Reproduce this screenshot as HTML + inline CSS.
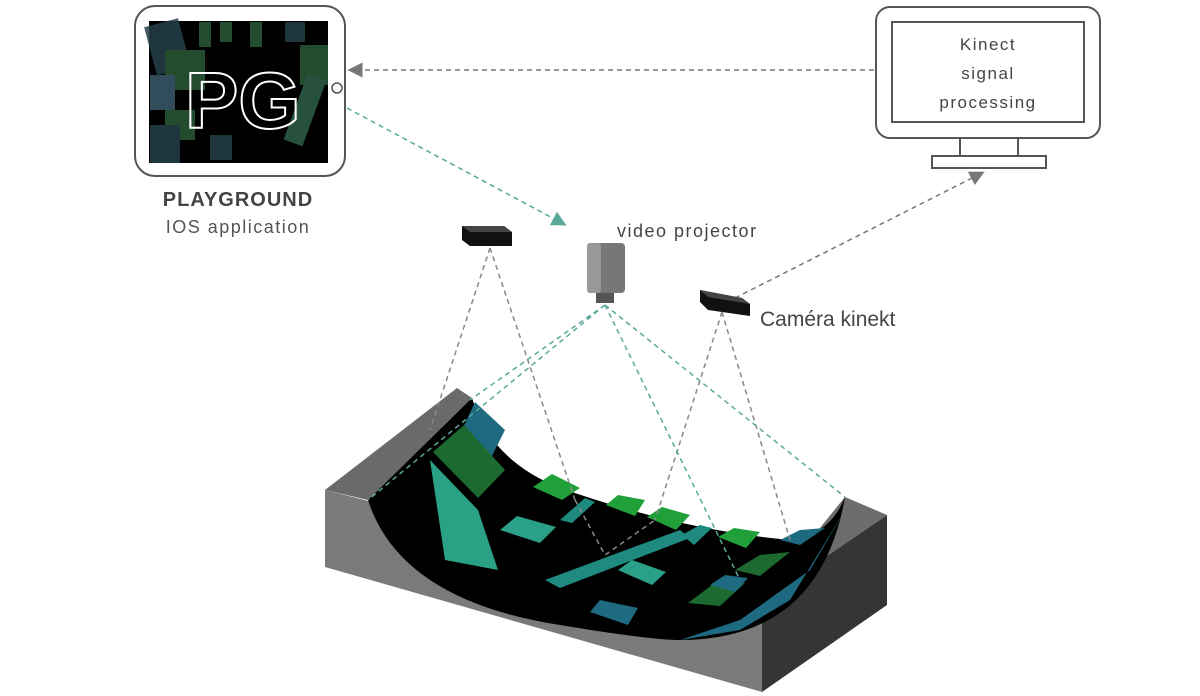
<!DOCTYPE html>
<html><head><meta charset="utf-8"><style>
html,body{margin:0;padding:0;background:#fff}
svg{display:block}
text{font-family:"Liberation Sans",sans-serif}
</style></head><body>
<svg width="1200" height="696" viewBox="0 0 1200 696" xmlns="http://www.w3.org/2000/svg">
<defs>
<marker id="ag" markerWidth="10" markerHeight="10" refX="5" refY="5" orient="auto"><path d="M0,0 L10,5 L0,10 z" fill="#777"/></marker>
<marker id="at" markerWidth="10" markerHeight="10" refX="5" refY="5" orient="auto"><path d="M0,0 L10,5 L0,10 z" fill="#5aa89a"/></marker>
</defs>
<!-- tablet -->
<rect x="135" y="6" width="210" height="170" rx="20" fill="#fff" stroke="#555" stroke-width="2"/>
<circle cx="337" cy="88" r="5" fill="#fff" stroke="#555" stroke-width="1.5"/>
<rect x="149" y="21" width="179" height="142" fill="#000"/>
<g opacity="0.85">
<rect x="150" y="22" width="35" height="50" fill="#26404a" transform="rotate(-15 167 47)"/>
<rect x="199" y="22" width="12" height="25" fill="#2a5a38"/>
<rect x="220" y="22" width="12" height="20" fill="#2a5a38"/>
<rect x="250" y="22" width="12" height="25" fill="#2a5a38"/>
<rect x="285" y="22" width="20" height="20" fill="#26404a"/>
<rect x="300" y="45" width="28" height="40" fill="#2a5a38"/>
<rect x="165" y="50" width="40" height="40" fill="#2a5a38"/>
<rect x="150" y="75" width="25" height="35" fill="#3a5a6a"/>
<rect x="295" y="75" width="20" height="70" fill="#2f6048" transform="rotate(20 305 110)"/>
<rect x="165" y="110" width="30" height="30" fill="#2a5a38"/>
<rect x="150" y="125" width="30" height="38" fill="#26404a"/>
<rect x="210" y="135" width="22" height="25" fill="#26404a"/>
</g>
<text x="185" y="128" font-size="80" fill="none" stroke="#fff" stroke-width="2" font-weight="bold">PG</text>
<text x="238" y="206" font-size="20" fill="#444" text-anchor="middle" font-weight="bold" letter-spacing="1">PLAYGROUND</text>
<text x="238" y="233" font-size="18" fill="#555" text-anchor="middle" letter-spacing="1.5">IOS application</text>
<!-- monitor -->
<rect x="876" y="7" width="224" height="131" rx="14" fill="#fff" stroke="#555" stroke-width="2"/>
<rect x="892" y="22" width="192" height="100" fill="#fff" stroke="#555" stroke-width="2"/>
<rect x="960" y="138" width="58" height="18" fill="#fff" stroke="#555" stroke-width="2"/>
<rect x="932" y="156" width="114" height="12" fill="#fff" stroke="#555" stroke-width="2"/>
<text x="988" y="50" font-size="17" fill="#444" text-anchor="middle" letter-spacing="1.5">Kinect</text>
<text x="988" y="79" font-size="17" fill="#444" text-anchor="middle" letter-spacing="1.5">signal</text>
<text x="988" y="108" font-size="17" fill="#444" text-anchor="middle" letter-spacing="1.5">processing</text>
<!-- arrows top -->
<line x1="874" y1="70" x2="355" y2="70" stroke="#777" stroke-width="1.5" stroke-dasharray="5,4" marker-end="url(#ag)"/>
<line x1="347" y1="108" x2="560" y2="222" stroke="#5aa89a" stroke-width="1.5" stroke-dasharray="5,4" marker-end="url(#at)"/>
<line x1="735" y1="298" x2="978" y2="175" stroke="#777" stroke-width="1.5" stroke-dasharray="5,4" marker-end="url(#ag)"/>
<!-- devices -->
<polygon points="462,226 504,226 512,232 512,246 470,246 462,240" fill="#111"/>
<polygon points="462,226 504,226 512,232 470,232" fill="#444"/>
<text x="617" y="237" font-size="18" fill="#444" letter-spacing="1.5">video projector</text>
<rect x="587" y="243" width="38" height="50" rx="4" fill="#777"/>
<rect x="587" y="243" width="14" height="50" rx="3" fill="#999"/>
<rect x="596" y="293" width="18" height="10" fill="#555"/>
<polygon points="700,290 742,298 750,304 750,316 708,310 700,302" fill="#111"/>
<polygon points="700,290 742,298 750,304 708,297" fill="#444"/>
<text x="760" y="326" font-size="21" fill="#444">Caméra kinekt</text>
<!-- block -->
<polygon points="325,490 325,567 762,692 762,600" fill="#7a7a7a"/>
<polygon points="762,600 887,515 887,605 762,692" fill="#353535"/>
<polygon points="325,490 457,388 472,398 368,500" fill="#6a6a6a"/>
<polygon points="762,600 845,497 887,515" fill="#6d6d6d"/>
<path d="M368,500 Q420,560 520,595 Q600,620 690,620 Q730,615 762,600 L845,497 Q830,535 790,540 Q680,530 560,488 Q490,460 472,398 Z" fill="#6d6d6d"/>
<path d="M368,500 Q400,600 560,625 Q650,640 680,640 Q820,640 845,497 Q830,535 790,540 Q680,530 560,488 Q490,460 472,398 Z" fill="#000"/>
<!-- patches -->
<polygon points="475,402 505,430 490,460 462,430" fill="#1e6a80"/>
<polygon points="433,452 464,425 505,470 478,498" fill="#1d6a30"/>
<polygon points="430,460 478,510 498,570 445,560" fill="#2aa085"/>
<polygon points="533,487 552,474 580,488 562,500" fill="#21a03a"/>
<polygon points="500,530 517,516 556,527 540,543" fill="#2aa088"/>
<polygon points="560,520 585,498 595,502 572,523" fill="#1f8a80"/>
<polygon points="606,505 618,495 645,500 635,516" fill="#21a03a"/>
<polygon points="647,517 662,507 690,515 676,530" fill="#21a03a"/>
<polygon points="545,580 680,530 690,538 560,588" fill="#1f8a80"/>
<polygon points="618,570 632,560 666,572 652,585" fill="#2aa088"/>
<polygon points="682,535 700,525 712,528 694,545" fill="#1f8a80"/>
<polygon points="718,537 734,528 760,532 746,548" fill="#21a03a"/>
<polygon points="590,612 600,600 638,608 628,625" fill="#1e6a80"/>
<polygon points="688,603 712,585 745,583 720,606" fill="#1d6a30"/>
<polygon points="710,585 725,575 748,578 735,592" fill="#1e6a80"/>
<polygon points="735,570 760,555 790,552 760,576" fill="#1d6a30"/>
<polygon points="680,640 740,620 810,570 845,510 790,600 740,630" fill="#1e6a80"/>
<polygon points="780,540 800,530 825,528 800,545" fill="#1e6a80"/>
<!-- beams -->
<g fill="none" stroke-width="1.5" stroke-dasharray="5,4">
<path d="M490,248 L430,430 M490,248 L575,500" stroke="#888"/>
<path d="M722,312 L655,520 M722,312 L790,540" stroke="#888"/>
<path d="M605,305 L470,400 M605,305 L368,500 M605,305 L740,580 M605,305 L845,497" stroke="#5aa89a"/>
<path d="M575,500 L605,555 L655,520" stroke="#888"/>
</g>
</svg>
</body></html>
